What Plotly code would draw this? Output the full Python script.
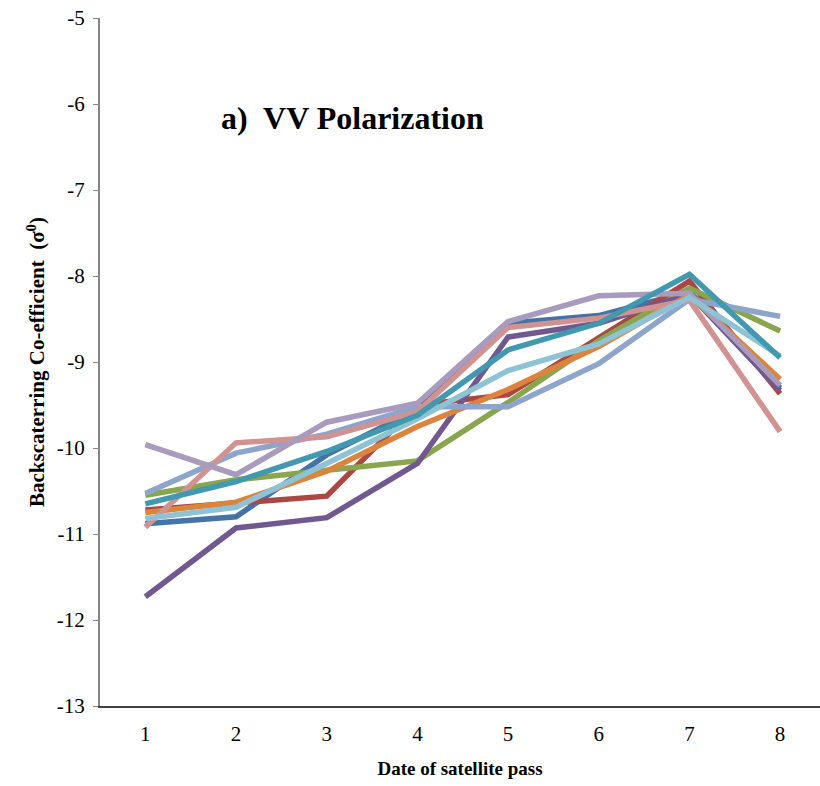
import plotly.graph_objects as go

# Satellite pass index and backscatter values (dB) for each sample site
passes = [1, 2, 3, 4, 5, 6, 7, 8]

site_a = [-10.88, -10.80, -10.08, -9.55, -8.55, -8.46, -8.18, -9.30]
site_b = [-10.72, -10.64, -10.56, -9.50, -9.38, -8.72, -8.06, -9.37]
site_c = [-10.55, -10.37, -10.26, -10.15, -9.47, -8.75, -8.14, -8.64]
site_d = [-11.73, -10.93, -10.81, -10.18, -8.71, -8.55, -8.21, -9.33]
site_e = [-10.65, -10.39, -10.04, -9.62, -8.86, -8.55, -7.98, -8.95]
site_f = [-10.75, -10.63, -10.27, -9.75, -9.32, -8.82, -8.22, -9.20]
site_g = [-10.53, -10.06, -9.84, -9.52, -9.52, -9.02, -8.27, -8.47]
site_h = [-10.92, -9.94, -9.87, -9.58, -8.60, -8.49, -8.28, -9.81]
site_i = [-9.96, -10.31, -9.70, -9.48, -8.53, -8.23, -8.20, -9.27]
site_j = [-10.82, -10.69, -10.18, -9.66, -9.10, -8.79, -8.25, -8.93]

series = [
    (site_a, "#4572A7"),
    (site_b, "#AA4643"),
    (site_c, "#89A54E"),
    (site_d, "#71588F"),
    (site_f, "#DB843D"),
    (site_g, "#8EA5CB"),
    (site_h, "#D19392"),
    (site_i, "#A99BBD"),
    (site_j, "#8DC3D5"),
    (site_e, "#4198AF"),
]

y_ticks = [-13, -12, -11, -10, -9, -8, -7, -6, -5]

fig = go.Figure()
for values, color in series:
    fig.add_trace(go.Scatter(
        x=passes, y=values, mode="lines",
        line=dict(color=color, width=5.5),
        showlegend=False, hoverinfo="skip",
    ))

serif = "Liberation Serif, Times New Roman, serif"

fig.update_layout(
    width=820, height=786,
    margin=dict(l=100, r=0, t=18, b=80),
    paper_bgcolor="white", plot_bgcolor="white",
    font=dict(family=serif, size=21, color="black"),
    xaxis=dict(
        range=[0.5, 8.44], tickvals=passes, ticktext=[str(p) for p in passes],
        showgrid=False, zeroline=False,
        showline=True, linecolor="#404040", linewidth=2,
        ticks="", tickfont=dict(size=21), ticklabelstandoff=8,
        title=dict(text="<b>Date of satellite pass</b>", font=dict(size=19), standoff=16),
    ),
    yaxis=dict(
        range=[-13, -5], tickvals=y_ticks, ticktext=[str(t) for t in y_ticks],
        showgrid=False, zeroline=False,
        showline=True, linecolor="#868686", linewidth=2,
        ticks="outside", ticklen=5, tickcolor="#868686", tickwidth=1,
        tickfont=dict(size=21), ticklabelstandoff=4,
        title=dict(text="<b>Backscaterring Co-efficient  (σ<sup>0</sup>)</b>",
                   font=dict(size=21), standoff=6),
    ),
    annotations=[dict(
        text="<b>a)  VV Polarization</b>", x=0.165, y=0.855,
        xref="paper", yref="paper", xanchor="left", yanchor="middle",
        showarrow=False, font=dict(family=serif, size=32, color="black"),
    )],
)

fig.write_html("out.html")
